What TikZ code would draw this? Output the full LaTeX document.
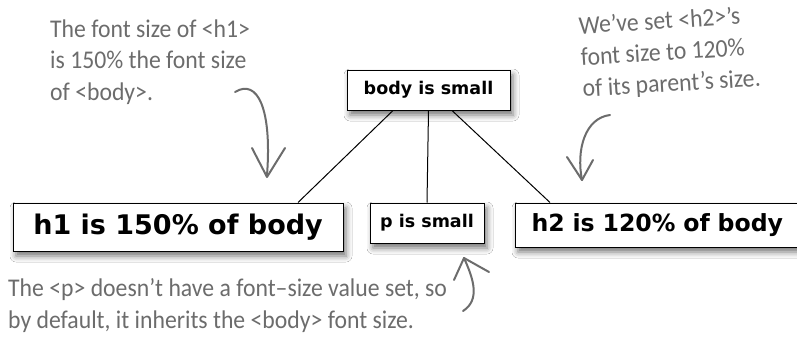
\documentclass[tikz,border=0pt]{standalone}
\usepackage{fontspec}
\setmainfont{DejaVu Sans}
\newfontfamily\handfont[FakeStretch=0.93]{Carlito}
\usetikzlibrary{shadows.blur,calc}
\definecolor{notegray}{HTML}{6C6C6C}
\tikzset{
  treebox/.style={draw=black, line width=1pt, fill=white, inner sep=0pt,
    font=\bfseries,
    blur shadow={shadow xshift=3pt, shadow yshift=-5pt, shadow blur radius=6pt, shadow opacity=55}},
  link/.style={line width=1pt, black},
  note/.style={text=notegray, font=\handfont\fontsize{25.5}{31.5}\selectfont, align=left, inner sep=0pt},
  notearrow/.style={draw=notegray, line width=2pt, line cap=round, line join=round}
}
\begin{document}
\begin{tikzpicture}[x=1pt,y=-1pt]
\useasboundingbox (0,0) rectangle (797,340);
\fill[white] (0,0) rectangle (797,340);
\node[treebox, minimum width=163pt, minimum height=40pt, font=\bfseries\fontsize{17.5}{20}\selectfont] (body) at (428.5,90) {body is small};
\node[treebox, minimum width=330pt, minimum height=48pt, font=\bfseries\fontsize{27}{30}\selectfont] (h1) at (178,227) {h1 is 150\% of body};
\node[treebox, minimum width=114pt, minimum height=40pt, font=\bfseries\fontsize{17.5}{20}\selectfont] (p) at (427,223) {p is small};
\node[treebox, minimum width=290pt, minimum height=44pt, font=\bfseries\fontsize{23.6}{26}\selectfont, text width=257pt, align=left] (h2) at (660,225) {h2 is 120\% of body};
\draw[link] ($(body.south)+(-35.5,0)$) -- ($(h1.north)+(120,0)$);
\draw[link] (body.south) -- (p.north);
\draw[link] ($(body.south)+(23.5,0)$) -- ($(h2.north)+(-110,0)$);
\node[note, anchor=base west] (n1) at (50,100) {The font size of <h1>\\is 150\% the font size\\of <body>.};
\node[note, anchor=base west, rotate=3.5] (n2) at (583,97) {We’ve set <h2>’s\\font size to 120\%\\of its parent’s size.};
\node[note, anchor=base west] (n3) at (8,328) {The <p> doesn’t have a font–size value set, so\\by default, it inherits the <body> font size.};
\draw[notearrow] (235,92) .. controls (258,78) and (272,110) .. (267,175);
\draw[notearrow] (252,148) -- (267,177) -- (285,148);
\draw[notearrow] (610,115) .. controls (585,118) and (576,150) .. (582,180);
\draw[notearrow] (567,157) -- (582,180) -- (593,160);
\draw[notearrow] (463,311) .. controls (480,300) and (474,280) .. (464,258);
\draw[notearrow] (454,280) -- (464,258) -- (489,272);
\end{tikzpicture}
\end{document}
